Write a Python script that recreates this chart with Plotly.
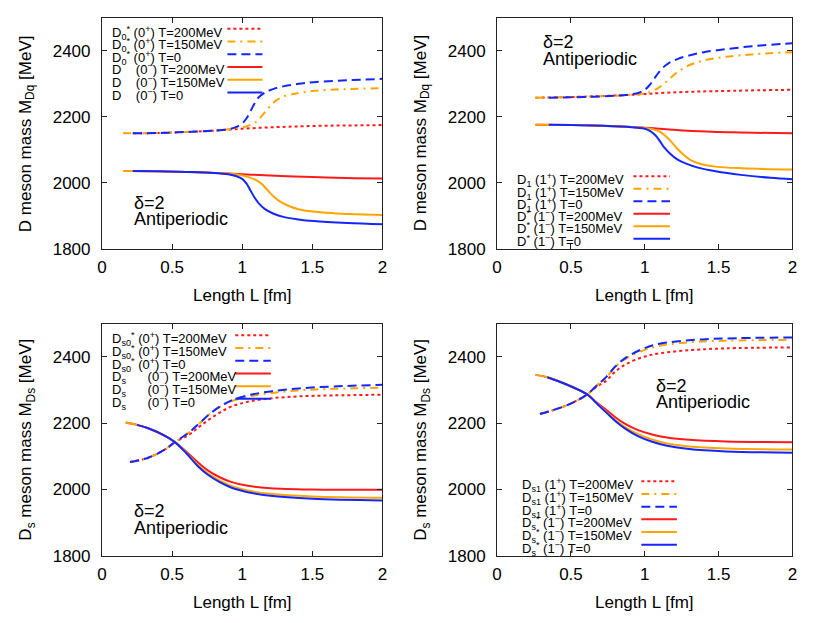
import plotly.graph_objects as go

# ---------------- data ----------------
# Panel 1: D0* (0+) and D (0-)
L_d0s_200 = [0.22, 0.4, 0.6, 0.8, 1.0, 1.2, 1.4, 1.6, 1.8, 2.0]
M_d0s_200 = [2150, 2151, 2154, 2158, 2164, 2168, 2171, 2173, 2174, 2175]
L_d0s_150 = [0.15, 0.4, 0.6, 0.8, 0.92, 1.0, 1.05, 1.1, 1.13, 1.16, 1.2, 1.24, 1.29, 1.35, 1.5, 1.75, 2.0]
M_d0s_150 = [2150, 2151, 2154, 2158, 2163, 2168, 2174, 2185, 2198, 2213, 2233, 2249, 2261, 2268, 2278, 2284, 2287]
L_d0s_0 = [0.22, 0.4, 0.6, 0.8, 0.9, 0.95, 1.0, 1.03, 1.06, 1.09, 1.12, 1.16, 1.22, 1.3, 1.4, 1.51, 1.75, 2.0]
M_d0s_0 = [2150, 2151, 2154, 2158, 2162, 2168, 2180, 2195, 2218, 2242, 2260, 2273, 2284, 2293, 2300, 2305, 2311, 2315]
L_d_200 = [0.22, 0.4, 0.6, 0.8, 1.0, 1.2, 1.37, 1.6, 1.8, 2.0]
M_d_200 = [2036, 2035, 2033, 2030, 2026, 2022, 2019, 2016, 2014, 2013]
L_d_150 = [0.15, 0.4, 0.6, 0.8, 0.96, 1.04, 1.1, 1.14, 1.18, 1.22, 1.26, 1.32, 1.4, 1.5, 1.65, 1.8, 2.0]
M_d_150 = [2036, 2035, 2033, 2030, 2025, 2018, 2008, 1996, 1978, 1960, 1946, 1932, 1920, 1913, 1908, 1905, 1902]
L_d_0 = [0.22, 0.4, 0.6, 0.8, 0.9, 0.96, 1.0, 1.03, 1.06, 1.09, 1.12, 1.16, 1.22, 1.3, 1.4, 1.51, 1.75, 2.0]
M_d_0 = [2036, 2035, 2033, 2030, 2026, 2020, 2012, 1998, 1976, 1954, 1937, 1921, 1907, 1896, 1889, 1884, 1878, 1874]

# Panel 2: D1 (1+) and D* (1-)
L_d1_200 = [0.26, 0.5, 0.7, 0.875, 1.0, 1.1, 1.32, 1.6, 2.0]
M_d1_200 = [2258, 2260, 2263, 2266, 2269, 2272, 2276, 2279, 2282]
L_d1_150 = [0.26, 0.5, 0.7, 0.875, 1.0, 1.05, 1.09, 1.13, 1.17, 1.21, 1.26, 1.32, 1.4, 1.55, 1.75, 2.0]
M_d1_150 = [2258, 2260, 2262, 2266, 2271, 2278, 2287, 2300, 2316, 2332, 2347, 2360, 2371, 2382, 2390, 2396]
L_d1_0 = [0.35, 0.5, 0.65, 0.8, 0.9, 0.96, 1.0, 1.03, 1.06, 1.09, 1.12, 1.16, 1.22, 1.3, 1.4, 1.55, 1.75, 2.0]
M_d1_0 = [2258, 2259, 2261, 2264, 2268, 2273, 2282, 2295, 2313, 2332, 2348, 2362, 2375, 2386, 2396, 2405, 2415, 2423]
L_ds_200 = [0.26, 0.5, 0.65, 0.875, 1.0, 1.1, 1.32, 1.6, 2.0]
M_ds_200 = [2176, 2175, 2174, 2170, 2167, 2164, 2157, 2153, 2150]
L_ds_150 = [0.26, 0.5, 0.65, 0.875, 1.0, 1.06, 1.1, 1.14, 1.18, 1.22, 1.26, 1.31, 1.38, 1.48, 1.66, 2.0]
M_ds_150 = [2176, 2175, 2174, 2170, 2166, 2162, 2155, 2142, 2124, 2103, 2086, 2069, 2057, 2049, 2044, 2040]
L_ds_0 = [0.35, 0.5, 0.65, 0.875, 0.95, 1.0, 1.04, 1.07, 1.1, 1.13, 1.17, 1.22, 1.28, 1.36, 1.48, 1.65, 1.85, 2.0]
M_ds_0 = [2176, 2175, 2174, 2170, 2167, 2164, 2156, 2145, 2128, 2108, 2089, 2071, 2058, 2046, 2035, 2024, 2015, 2011]

# Panel 3: Ds0* (0+) and Ds (0-)
L_s0_200 = [0.2, 0.33, 0.45, 0.52, 0.62, 0.69, 0.76, 0.84, 0.92, 1.04, 1.2, 1.4, 1.65, 2.0]
M_s0_200 = [2083, 2096, 2121, 2143, 2165, 2188, 2210, 2232, 2250, 2265, 2275, 2281, 2284, 2286]
L_s0_150 = [0.2, 0.33, 0.45, 0.52, 0.62, 0.69, 0.76, 0.84, 0.92, 1.04, 1.2, 1.4, 1.65, 2.0]
M_s0_150 = [2083, 2096, 2121, 2143, 2172, 2198, 2225, 2249, 2266, 2280, 2291, 2299, 2304, 2307]
L_s0_0 = [0.2, 0.33, 0.45, 0.52, 0.62, 0.69, 0.76, 0.84, 0.92, 1.04, 1.2, 1.4, 1.65, 2.0]
M_s0_0 = [2083, 2096, 2121, 2143, 2172, 2198, 2225, 2250, 2268, 2284, 2296, 2305, 2311, 2316]
L_s_200 = [0.17, 0.25, 0.33, 0.45, 0.52, 0.6, 0.69, 0.76, 0.84, 0.92, 1.04, 1.2, 1.5, 2.0]
M_s_200 = [2202, 2195, 2185, 2162, 2143, 2115, 2080, 2056, 2037, 2023, 2011, 2004, 2000, 1999]
L_s_150 = [0.17, 0.25, 0.33, 0.45, 0.52, 0.6, 0.69, 0.76, 0.84, 0.92, 1.04, 1.2, 1.5, 2.0]
M_s_150 = [2202, 2195, 2185, 2162, 2143, 2112, 2071, 2047, 2027, 2011, 1997, 1987, 1979, 1975]
L_s_0 = [0.25, 0.33, 0.45, 0.52, 0.6, 0.69, 0.76, 0.84, 0.92, 1.04, 1.2, 1.5, 2.0]
M_s_0 = [2195, 2185, 2162, 2143, 2110, 2068, 2043, 2022, 2006, 1992, 1981, 1972, 1967]

# Panel 4: Ds1 (1+) and Ds* (1-)
L_s1_200 = [0.29, 0.43, 0.52, 0.61, 0.67, 0.74, 0.8, 0.875, 0.99, 1.1, 1.32, 1.55, 2.0]
M_s1_200 = [2228, 2247, 2264, 2287, 2309, 2329, 2356, 2379, 2400, 2411, 2421, 2426, 2429]
L_s1_150 = [0.29, 0.43, 0.52, 0.61, 0.67, 0.74, 0.8, 0.875, 0.99, 1.1, 1.32, 1.55, 2.0]
M_s1_150 = [2228, 2247, 2264, 2287, 2312, 2339, 2370, 2396, 2420, 2434, 2445, 2449, 2452]
L_s1_0 = [0.29, 0.43, 0.52, 0.61, 0.67, 0.74, 0.8, 0.875, 0.99, 1.1, 1.32, 1.55, 2.0]
M_s1_0 = [2228, 2247, 2264, 2287, 2312, 2340, 2371, 2399, 2425, 2440, 2451, 2456, 2459]
L_ss_200 = [0.26, 0.34, 0.47, 0.61, 0.67, 0.74, 0.8, 0.87, 0.95, 1.05, 1.15, 1.3, 1.55, 2.0]
M_ss_200 = [2346, 2339, 2317, 2287, 2264, 2240, 2218, 2197, 2180, 2166, 2157, 2150, 2145, 2143]
L_ss_150 = [0.26, 0.34, 0.47, 0.61, 0.67, 0.74, 0.8, 0.87, 0.95, 1.05, 1.15, 1.3, 1.55, 2.0]
M_ss_150 = [2346, 2339, 2317, 2287, 2263, 2234, 2210, 2187, 2168, 2151, 2139, 2130, 2124, 2121]
L_ss_0 = [0.34, 0.47, 0.61, 0.67, 0.74, 0.8, 0.87, 0.95, 1.05, 1.15, 1.3, 1.55, 2.0]
M_ss_0 = [2339, 2317, 2287, 2262, 2232, 2207, 2183, 2162, 2144, 2132, 2122, 2115, 2111]

# legend labels
NB = "\u00a0"
lab_p1 = [
    "D<sub>0</sub><sup>*</sup> (0<sup>+</sup>) T=200MeV",
    "D<sub>0</sub><sup>*</sup> (0<sup>+</sup>) T=150MeV",
    "D<sub>0</sub><sup>*</sup> (0<sup>+</sup>) T=0",
    "D" + NB * 4 + "(0<sup>\u2212</sup>) T=200MeV",
    "D" + NB * 4 + "(0<sup>\u2212</sup>) T=150MeV",
    "D" + NB * 4 + "(0<sup>\u2212</sup>) T=0",
]
lab_p2 = [
    "D<sub>1</sub> (1<sup>+</sup>) T=200MeV",
    "D<sub>1</sub> (1<sup>+</sup>) T=150MeV",
    "D<sub>1</sub> (1<sup>+</sup>) T=0",
    "D<sup>*</sup> (1<sup>\u2212</sup>) T=200MeV",
    "D<sup>*</sup> (1<sup>\u2212</sup>) T=150MeV",
    "D<sup>*</sup> (1<sup>\u2212</sup>) T=0",
]
lab_p3 = [
    "D<sub>s0</sub><sup>*</sup> (0<sup>+</sup>) T=200MeV",
    "D<sub>s0</sub><sup>*</sup> (0<sup>+</sup>) T=150MeV",
    "D<sub>s0</sub><sup>*</sup> (0<sup>+</sup>) T=0",
    "D<sub>s</sub>" + NB * 6 + "(0<sup>\u2212</sup>) T=200MeV",
    "D<sub>s</sub>" + NB * 6 + "(0<sup>\u2212</sup>) T=150MeV",
    "D<sub>s</sub>" + NB * 6 + "(0<sup>\u2212</sup>) T=0",
]
lab_p4 = [
    "D<sub>s1</sub> (1<sup>+</sup>) T=200MeV",
    "D<sub>s1</sub> (1<sup>+</sup>) T=150MeV",
    "D<sub>s1</sub> (1<sup>+</sup>) T=0",
    "D<sub>s</sub><sup>*</sup> (1<sup>\u2212</sup>) T=200MeV",
    "D<sub>s</sub><sup>*</sup> (1<sup>\u2212</sup>) T=150MeV",
    "D<sub>s</sub><sup>*</sup> (1<sup>\u2212</sup>) T=0",
]
ytitles = ["D meson mass M<sub>Dq</sub> [MeV]", "D meson mass M<sub>Dq</sub> [MeV]",
           "D<sub>s</sub> meson mass M<sub>Ds</sub> [MeV]", "D<sub>s</sub> meson mass M<sub>Ds</sub> [MeV]"]
xtitle = "Length L [fm]"
xticks = [0, 0.5, 1, 1.5, 2]
yticks = [1800, 2000, 2200, 2400]

# ---------------- styles ----------------
RED, ORANGE, BLUE = "#ff1a1a", "#ffa500", "#1426ff"
DOT, DASHDOT, DASH = "3px,3px", "8px,5px,2px,5px", "9px,5px"
styles = [(RED, DOT), (ORANGE, DASHDOT), (BLUE, DASH), (RED, "solid"), (ORANGE, "solid"), (BLUE, "solid")]
FONT = "Liberation Sans, Arial, Helvetica, sans-serif"
W, H = 830, 623
OFF = 8  # page body margin of the html page

panels = [
    dict(curves=[(L_d0s_200, M_d0s_200), (L_d0s_150, M_d0s_150), (L_d0s_0, M_d0s_0),
                 (L_d_200, M_d_200), (L_d_150, M_d_150), (L_d_0, M_d_0)],
         labels=lab_p1, box=(98, 382, 18, 252.7), leg=(106, 225, 260.5, 29, 13),
         note=(128, 206, 222)),
    dict(curves=[(L_d1_200, M_d1_200), (L_d1_150, M_d1_150), (L_d1_0, M_d1_0),
                 (L_ds_200, M_ds_200), (L_ds_150, M_ds_150), (L_ds_0, M_ds_0)],
         labels=lab_p2, box=(498, 797, 18, 252.7), leg=(516, 636, 673, 179, 12.7),
         note=(542, 43, 60)),
    dict(curves=[(L_s0_200, M_s0_200), (L_s0_150, M_s0_150), (L_s0_0, M_s0_0),
                 (L_s_200, M_s_200), (L_s_150, M_s_150), (L_s_0, M_s_0)],
         labels=lab_p3, box=(98, 382, 329, 564.7), leg=(106, 233, 269, 340.7, 12.9),
         note=(128, 519, 536)),
    dict(curves=[(L_s1_200, M_s1_200), (L_s1_150, M_s1_150), (L_s1_0, M_s1_0),
                 (L_ss_200, M_ss_200), (L_ss_150, M_ss_150), (L_ss_0, M_ss_0)],
         labels=lab_p4, box=(498, 797, 329, 564.7), leg=(521, 644, 680, 489, 12.9),
         note=(657, 392, 408)),
]

fig = go.Figure()
annotations, shapes = [], []


def px(x):
    return (x - OFF) / W


def py(y):
    return 1 - (y - OFF) / H


for i, p in enumerate(panels):
    n = "" if i == 0 else str(i + 1)
    for (xs, ys), (col, dash) in zip(p["curves"], styles):
        fig.add_trace(go.Scatter(x=xs, y=ys, mode="lines", xaxis="x" + n, yaxis="y" + n,
                                 line=dict(color=col, width=2, dash=dash, shape="spline", smoothing=1.0),
                                 showlegend=False, hoverinfo="skip"))
    x0, x1, y0, y1 = p["box"]
    common = dict(showline=True, mirror="allticks", linecolor="#222", linewidth=1,
                  ticks="inside", ticklen=5, tickcolor="#222", showgrid=False, zeroline=False,
                  tickfont=dict(family=FONT, size=17, color="black"))
    fig.layout["xaxis" + n] = dict(domain=[px(x0), px(x1)], range=[0, 2], tickvals=xticks,
                                   anchor="y" + n, ticklabelstandoff=3, **common)
    fig.layout["yaxis" + n] = dict(domain=[py(y1), py(y0)], range=[1800, 2500], tickvals=yticks,
                                   anchor="x" + n, ticklabelstandoff=7, **common)
    # axis titles
    annotations.append(dict(text=xtitle, x=px((x0 + x1) / 2), y=py(y1 + 47), xref="paper", yref="paper",
                            showarrow=False, xanchor="center", yanchor="middle",
                            font=dict(family=FONT, size=17, color="black")))
    annotations.append(dict(text=ytitles[i], x=px(x0 - 76), y=py((y0 + y1) / 2), xref="paper", yref="paper",
                            showarrow=False, xanchor="center", yanchor="middle", textangle=-90,
                            font=dict(family=FONT, size=17, color="black")))
    # delta / Antiperiodic note
    nx, ny1, ny2 = p["note"]
    annotations.append(dict(text="\u03b4=2", x=px(nx), y=py(ny1), xref="paper", yref="paper",
                            showarrow=False, xanchor="left", yanchor="middle",
                            font=dict(family=FONT, size=18, color="black")))
    annotations.append(dict(text="Antiperiodic", x=px(nx), y=py(ny2), xref="paper", yref="paper",
                            showarrow=False, xanchor="left", yanchor="middle",
                            font=dict(family=FONT, size=18, color="black")))
    # legend (text left, sample right)
    tx, sx0, sx1, ly0, dy = p["leg"]
    for k, ((col, dash), lab) in enumerate(zip(styles, p["labels"])):
        yy = ly0 + k * dy
        shift = 4 if "<sub>" in lab else 2
        annotations.append(dict(text=lab, x=px(tx), y=py(yy + shift), xref="paper", yref="paper",
                                showarrow=False, xanchor="left", yanchor="middle",
                                font=dict(family=FONT, size=13, color="black")))
        shapes.append(dict(type="line", xref="paper", yref="paper", x0=px(sx0), x1=px(sx1),
                           y0=py(yy), y1=py(yy), line=dict(color=col, width=2, dash=dash)))

fig.update_layout(width=W, height=H, margin=dict(l=0, r=0, t=0, b=0),
                  paper_bgcolor="white", plot_bgcolor="white",
                  annotations=annotations, shapes=shapes, showlegend=False)
fig.write_html("out.html")
